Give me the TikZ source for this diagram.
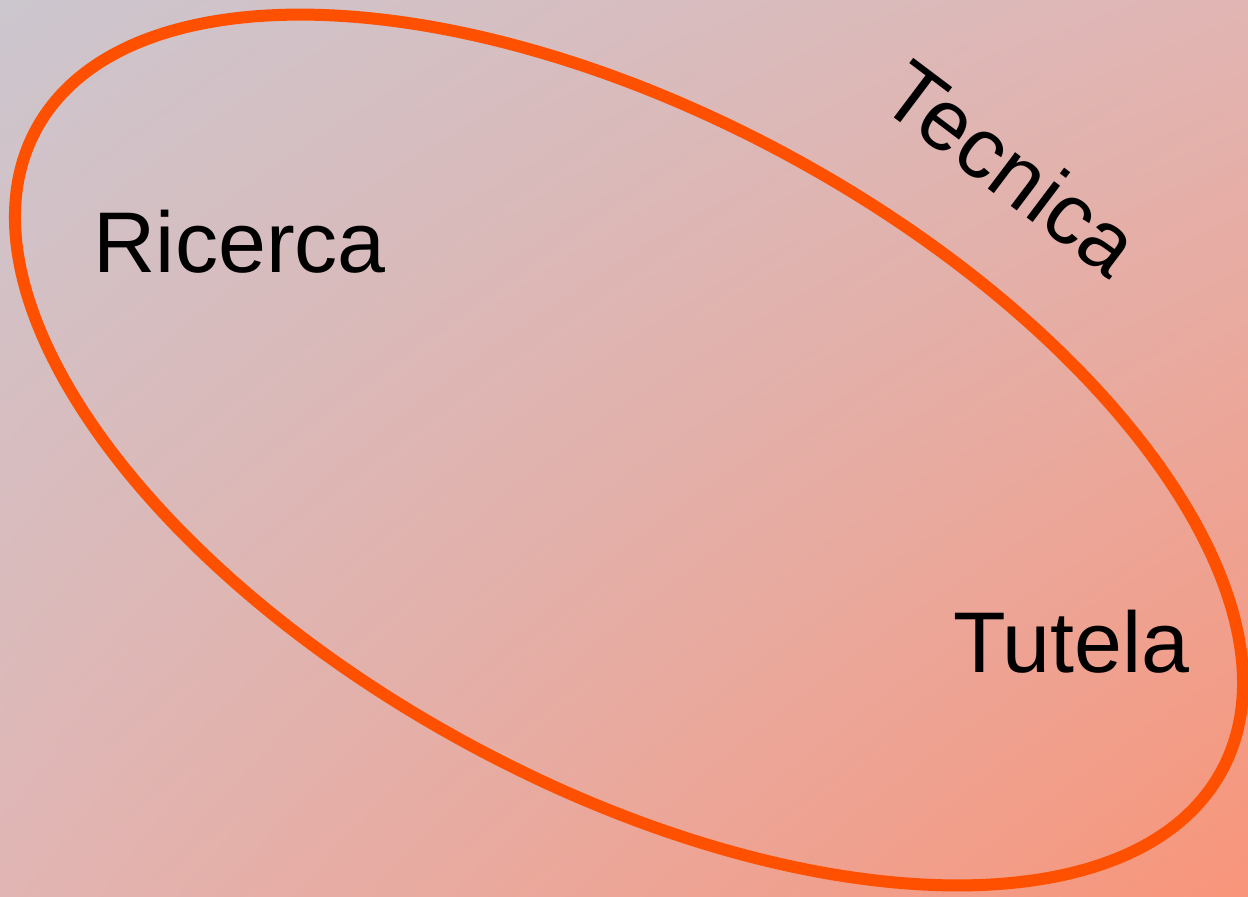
\documentclass[tikz,border=0pt]{standalone}
\usepackage{fontspec}
\setmainfont{Liberation Sans}
\usetikzlibrary{shadings}
\definecolor{bgtl}{HTML}{CCC6CE}
\definecolor{bgbr}{HTML}{F8957A}
\definecolor{bgmid}{HTML}{E1B5B3}
\definecolor{ring}{HTML}{FF5000}
\tikzset{
  lbl/.style={font=\fontsize{24.5}{28}\selectfont, text=black, inner sep=0pt},
}
\begin{document}
\begin{tikzpicture}[x=0.01cm,y=-0.01cm]
\useasboundingbox (0,0) rectangle (1248,896);
\shade[upper left=bgtl, lower right=bgbr, upper right=bgmid, lower left=bgmid] (0,0) rectangle (1248,896);
\draw[ring, line width=0.12cm] (629,450) [rotate around={-28.4:(629,450)}] ellipse [x radius=674, y radius=335];
\node[lbl, anchor=base west] (ricerca) at (93,272) {Ricerca};
\node[lbl, anchor=base east] (tutela) at (1190,672) {Tutela};
\node[lbl, rotate=-37] (tecnica) at (1012,168) {Tecnica};
\end{tikzpicture}
\end{document}
